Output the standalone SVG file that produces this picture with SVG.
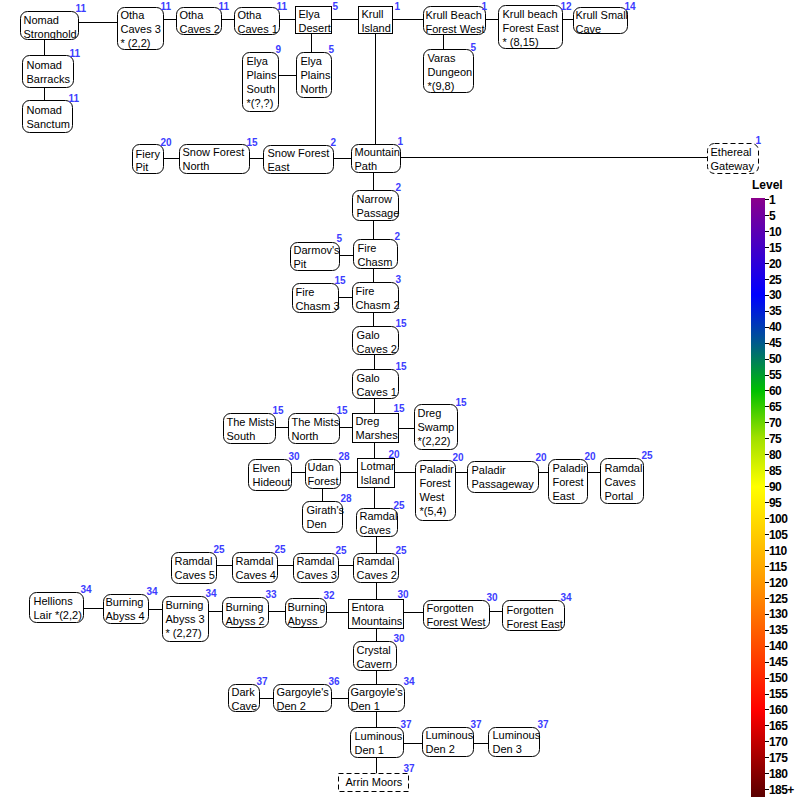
<svg xmlns="http://www.w3.org/2000/svg" width="800" height="800" viewBox="0 0 800 800">
<style>
.n{fill:#fff;stroke:#000;stroke-width:1}
.d{stroke-dasharray:5,3}
.t{font-family:"Liberation Sans",Arial,sans-serif;font-size:11px;fill:#000}
.lv{font-family:"Liberation Sans",Arial,sans-serif;font-size:10px;font-weight:bold;fill:#3c3cff}
.c line{stroke:#000;stroke-width:1}
.lg{font-family:"Liberation Sans",Arial,sans-serif;font-size:12px;font-weight:bold;fill:#000;letter-spacing:-0.6px}
.tk line{stroke:#000;stroke-width:1}
</style>
<defs>
<linearGradient id="grad" x1="0" y1="0" x2="0" y2="1">
<stop offset="0" stop-color="#8b008b"/>
<stop offset="0.162" stop-color="#0000ff"/>
<stop offset="0.242" stop-color="#005a8c"/>
<stop offset="0.322" stop-color="#00c000"/>
<stop offset="0.40" stop-color="#a0e000"/>
<stop offset="0.482" stop-color="#ffff00"/>
<stop offset="0.641" stop-color="#ff9900"/>
<stop offset="0.855" stop-color="#ff0000"/>
<stop offset="1" stop-color="#5a0000"/>
</linearGradient>
</defs>
<rect width="800" height="800" fill="#fff"/>
<g transform="translate(0.5,0.5)">
<g id="connectors" class="c">
<line x1="78" y1="22" x2="117" y2="22"/>
<line x1="163" y1="19" x2="176" y2="19"/>
<line x1="221" y1="19" x2="234" y2="19"/>
<line x1="279" y1="19" x2="295" y2="19"/>
<line x1="331" y1="19" x2="358" y2="19"/>
<line x1="392" y1="19" x2="423" y2="19"/>
<line x1="485" y1="19" x2="498" y2="19"/>
<line x1="562" y1="19" x2="573" y2="19"/>
<line x1="44" y1="39" x2="44" y2="55"/>
<line x1="44" y1="87" x2="44" y2="100"/>
<line x1="311" y1="33" x2="311" y2="52"/>
<line x1="278" y1="75" x2="296" y2="75"/>
<line x1="443" y1="34" x2="443" y2="49"/>
<line x1="375" y1="33" x2="375" y2="144"/>
<line x1="163" y1="158" x2="179" y2="158"/>
<line x1="249" y1="158" x2="263" y2="158"/>
<line x1="333" y1="158" x2="351" y2="158"/>
<line x1="400" y1="157" x2="707" y2="157"/>
<line x1="373" y1="172" x2="373" y2="190"/>
<line x1="373" y1="220" x2="373" y2="239"/>
<line x1="339" y1="255" x2="353" y2="255"/>
<line x1="373" y1="268" x2="373" y2="282"/>
<line x1="338" y1="297" x2="352" y2="297"/>
<line x1="373" y1="312" x2="373" y2="326"/>
<line x1="374" y1="354" x2="374" y2="369"/>
<line x1="374" y1="398" x2="374" y2="413"/>
<line x1="275" y1="427" x2="288" y2="427"/>
<line x1="339" y1="427" x2="352" y2="427"/>
<line x1="398" y1="428" x2="414" y2="428"/>
<line x1="374" y1="442" x2="374" y2="458"/>
<line x1="291" y1="472" x2="305" y2="472"/>
<line x1="340" y1="472" x2="357" y2="472"/>
<line x1="394" y1="472" x2="415" y2="472"/>
<line x1="455" y1="472" x2="467" y2="472"/>
<line x1="538" y1="472" x2="548" y2="472"/>
<line x1="587" y1="472" x2="600" y2="472"/>
<line x1="322" y1="488" x2="322" y2="501"/>
<line x1="374" y1="487" x2="374" y2="508"/>
<line x1="376" y1="536" x2="376" y2="553"/>
<line x1="216" y1="565" x2="232" y2="565"/>
<line x1="277" y1="565" x2="293" y2="565"/>
<line x1="338" y1="565" x2="353" y2="565"/>
<line x1="376" y1="582" x2="376" y2="599"/>
<line x1="83" y1="608" x2="103" y2="608"/>
<line x1="148" y1="609" x2="162" y2="609"/>
<line x1="208" y1="611" x2="222" y2="611"/>
<line x1="268" y1="611" x2="285" y2="611"/>
<line x1="326" y1="612" x2="348" y2="612"/>
<line x1="403" y1="612" x2="423" y2="612"/>
<line x1="489" y1="611" x2="502" y2="611"/>
<line x1="376" y1="628" x2="376" y2="641"/>
<line x1="376" y1="670" x2="376" y2="684"/>
<line x1="259" y1="698" x2="273" y2="698"/>
<line x1="331" y1="698" x2="348" y2="698"/>
<line x1="376" y1="711" x2="376" y2="727"/>
<line x1="403" y1="743" x2="422" y2="743"/>
<line x1="473" y1="743" x2="488" y2="743"/>
<line x1="376" y1="757" x2="376" y2="773"/>
</g>

<g id="nomad-stronghold"><rect class="n" x="20" y="11" width="58" height="28" rx="7"/><text class="t"><tspan x="23" y="23">Nomad</tspan><tspan x="23" y="37">Stronghold</tspan></text><text class="lv" x="75" y="11">11</text></g>
<g id="otha-caves-3"><rect class="n" x="117" y="7" width="46" height="42" rx="7"/><text class="t"><tspan x="120" y="18">Otha</tspan><tspan x="120" y="32">Caves 3</tspan><tspan x="120" y="46">* (2,2)</tspan></text><text class="lv" x="160" y="9">11</text></g>
<g id="otha-caves-2"><rect class="n" x="176" y="7" width="45" height="27" rx="7"/><text class="t"><tspan x="179" y="18">Otha</tspan><tspan x="179" y="32">Caves 2</tspan></text><text class="lv" x="218" y="9">11</text></g>
<g id="otha-caves-1"><rect class="n" x="234" y="7" width="45" height="27" rx="7"/><text class="t"><tspan x="237" y="18">Otha</tspan><tspan x="237" y="32">Caves 1</tspan></text><text class="lv" x="276" y="9">11</text></g>
<g id="elya-desert"><rect class="n" x="295" y="6" width="36" height="27"/><text class="t"><tspan x="298" y="17">Elya</tspan><tspan x="298" y="31">Desert</tspan></text><text class="lv" x="332" y="9">5</text></g>
<g id="krull-island"><rect class="n" x="358" y="6" width="34" height="27"/><text class="t"><tspan x="361" y="17">Krull</tspan><tspan x="361" y="31">Island</tspan></text><text class="lv" x="394" y="9">1</text></g>
<g id="krull-beach-forest-west"><rect class="n" x="423" y="6" width="62" height="28" rx="7"/><text class="t"><tspan x="425" y="18">Krull Beach</tspan><tspan x="425" y="32">Forest West</tspan></text><text class="lv" x="481" y="9">1</text></g>
<g id="krull-beach-forest-east"><rect class="n" x="498" y="5" width="64" height="43" rx="7"/><text class="t"><tspan x="502" y="17">Krull beach</tspan><tspan x="502" y="31">Forest East</tspan><tspan x="502" y="45">* (8,15)</tspan></text><text class="lv" x="560" y="9">12</text></g>
<g id="krull-small-cave"><rect class="n" x="573" y="7" width="54" height="26" rx="7"/><text class="t"><tspan x="575" y="18">Krull Small</tspan><tspan x="575" y="32">Cave</tspan></text><text class="lv" x="624" y="9">14</text></g>
<g id="nomad-barracks"><rect class="n" x="22" y="55" width="51" height="32" rx="7"/><text class="t"><tspan x="26" y="68">Nomad</tspan><tspan x="26" y="82">Barracks</tspan></text><text class="lv" x="69" y="56">11</text></g>
<g id="nomad-sanctum"><rect class="n" x="22" y="100" width="50" height="32" rx="7"/><text class="t"><tspan x="26" y="113">Nomad</tspan><tspan x="26" y="127">Sanctum</tspan></text><text class="lv" x="68" y="101">11</text></g>
<g id="elya-plains-south"><rect class="n" x="242" y="52" width="36" height="59" rx="7"/><text class="t"><tspan x="246" y="64">Elya</tspan><tspan x="246" y="78">Plains</tspan><tspan x="246" y="92">South</tspan><tspan x="246" y="106">*(?,?)</tspan></text><text class="lv" x="275" y="52">9</text></g>
<g id="elya-plains-north"><rect class="n" x="296" y="52" width="35" height="45" rx="7"/><text class="t"><tspan x="300" y="64">Elya</tspan><tspan x="300" y="78">Plains</tspan><tspan x="300" y="92">North</tspan></text><text class="lv" x="328" y="52">5</text></g>
<g id="varas-dungeon"><rect class="n" x="423" y="49" width="50" height="43" rx="7"/><text class="t"><tspan x="427" y="61">Varas</tspan><tspan x="427" y="75">Dungeon</tspan><tspan x="427" y="89">*(9,8)</tspan></text><text class="lv" x="470" y="50">5</text></g>

<g id="fiery-pit"><rect class="n" x="132" y="144" width="31" height="29" rx="7"/><text class="t"><tspan x="135" y="157">Fiery</tspan><tspan x="135" y="170">Pit</tspan></text><text class="lv" x="160" y="145">20</text></g>
<g id="snow-forest-north"><rect class="n" x="179" y="144" width="70" height="29" rx="7"/><text class="t"><tspan x="182" y="155">Snow Forest</tspan><tspan x="182" y="169">North</tspan></text><text class="lv" x="246" y="145">15</text></g>
<g id="snow-forest-east"><rect class="n" x="263" y="145" width="70" height="28" rx="7"/><text class="t"><tspan x="267" y="156">Snow Forest</tspan><tspan x="267" y="170">East</tspan></text><text class="lv" x="330" y="145">2</text></g>
<g id="mountain-path"><rect class="n" x="351" y="144" width="49" height="28" rx="7"/><text class="t"><tspan x="354" y="155">Mountain</tspan><tspan x="354" y="169">Path</tspan></text><text class="lv" x="397" y="144">1</text></g>
<g id="ethereal-gateway"><rect class="n d" x="707" y="143" width="51" height="30" rx="7"/><text class="t"><tspan x="710" y="155">Ethereal</tspan><tspan x="710" y="169">Gateway</tspan></text><text class="lv" x="755" y="143">1</text></g>
<g id="narrow-passage"><rect class="n" x="352" y="190" width="46" height="30" rx="7"/><text class="t"><tspan x="356" y="202">Narrow</tspan><tspan x="356" y="216">Passage</tspan></text><text class="lv" x="395" y="190">2</text></g>
<g id="fire-chasm"><rect class="n" x="353" y="239" width="44" height="29" rx="7"/><text class="t"><tspan x="357" y="251">Fire</tspan><tspan x="357" y="265">Chasm</tspan></text><text class="lv" x="394" y="239">2</text></g>
<g id="darmovs-pit"><rect class="n" x="290" y="242" width="49" height="28" rx="7"/><text class="t"><tspan x="293" y="253">Darmov's</tspan><tspan x="293" y="267">Pit</tspan></text><text class="lv" x="336" y="241">5</text></g>
<g id="fire-chasm-3"><rect class="n" x="292" y="283" width="46" height="29" rx="7"/><text class="t"><tspan x="295" y="295">Fire</tspan><tspan x="295" y="309">Chasm 3</tspan></text><text class="lv" x="334" y="283">15</text></g>
<g id="fire-chasm-2"><rect class="n" x="352" y="282" width="46" height="30" rx="7"/><text class="t"><tspan x="355" y="294">Fire</tspan><tspan x="355" y="308">Chasm 2</tspan></text><text class="lv" x="395" y="282">3</text></g>
<g id="galo-caves-2"><rect class="n" x="352" y="326" width="46" height="28" rx="7"/><text class="t"><tspan x="356" y="338">Galo</tspan><tspan x="356" y="352">Caves 2</tspan></text><text class="lv" x="395" y="326">15</text></g>
<g id="galo-caves-1"><rect class="n" x="352" y="369" width="46" height="29" rx="7"/><text class="t"><tspan x="356" y="381">Galo</tspan><tspan x="356" y="395">Caves 1</tspan></text><text class="lv" x="395" y="369">15</text></g>

<g id="the-mists-south"><rect class="n" x="223" y="413" width="52" height="30" rx="7"/><text class="t"><tspan x="226" y="425">The Mists</tspan><tspan x="226" y="439">South</tspan></text><text class="lv" x="272" y="413">15</text></g>
<g id="the-mists-north"><rect class="n" x="288" y="413" width="51" height="30" rx="7"/><text class="t"><tspan x="291" y="425">The Mists</tspan><tspan x="291" y="439">North</tspan></text><text class="lv" x="336" y="413">15</text></g>
<g id="dreg-marshes"><rect class="n" x="352" y="413" width="46" height="29"/><text class="t"><tspan x="355" y="424">Dreg</tspan><tspan x="355" y="438">Marshes</tspan></text><text class="lv" x="393" y="411">15</text></g>
<g id="dreg-swamp"><rect class="n" x="414" y="404" width="43" height="45" rx="7"/><text class="t"><tspan x="417" y="416">Dreg</tspan><tspan x="417" y="430">Swamp</tspan><tspan x="417" y="444">*(2,22)</tspan></text><text class="lv" x="455" y="405">15</text></g>
<g id="elven-hideout"><rect class="n" x="248" y="459" width="43" height="31" rx="7"/><text class="t"><tspan x="252" y="471">Elven</tspan><tspan x="252" y="485">Hideout</tspan></text><text class="lv" x="288" y="459">30</text></g>
<g id="udan-forest"><rect class="n" x="305" y="459" width="35" height="29" rx="7"/><text class="t"><tspan x="307" y="470">Udan</tspan><tspan x="307" y="484">Forest</tspan></text><text class="lv" x="338" y="459">28</text></g>
<g id="lotmar-island"><rect class="n" x="357" y="458" width="37" height="29"/><text class="t"><tspan x="360" y="469">Lotmar</tspan><tspan x="360" y="483">Island</tspan></text><text class="lv" x="388" y="457">20</text></g>
<g id="paladir-forest-west"><rect class="n" x="415" y="460" width="40" height="60" rx="7"/><text class="t"><tspan x="419" y="472">Paladir</tspan><tspan x="419" y="486">Forest</tspan><tspan x="419" y="500">West</tspan><tspan x="419" y="514">*(5,4)</tspan></text><text class="lv" x="452" y="460">20</text></g>
<g id="paladir-passageway"><rect class="n" x="467" y="461" width="71" height="31" rx="7"/><text class="t"><tspan x="471" y="473">Paladir</tspan><tspan x="471" y="487">Passageway</tspan></text><text class="lv" x="535" y="460">20</text></g>
<g id="paladir-forest-east"><rect class="n" x="548" y="459" width="39" height="44" rx="7"/><text class="t"><tspan x="552" y="471">Paladir</tspan><tspan x="552" y="485">Forest</tspan><tspan x="552" y="499">East</tspan></text><text class="lv" x="584" y="459">20</text></g>
<g id="ramdal-caves-portal"><rect class="n" x="600" y="458" width="43" height="45" rx="7"/><text class="t"><tspan x="604" y="471">Ramdal</tspan><tspan x="604" y="485">Caves</tspan><tspan x="604" y="499">Portal</tspan></text><text class="lv" x="641" y="458">25</text></g>
<g id="giraths-den"><rect class="n" x="302" y="501" width="40" height="31" rx="7"/><text class="t"><tspan x="306" y="513">Girath's</tspan><tspan x="306" y="527">Den</tspan></text><text class="lv" x="340" y="501">28</text></g>
<g id="ramdal-caves"><rect class="n" x="356" y="508" width="41" height="28" rx="7"/><text class="t"><tspan x="359" y="519">Ramdal</tspan><tspan x="359" y="533">Caves</tspan></text><text class="lv" x="393" y="508">25</text></g>

<g id="ramdal-caves-5"><rect class="n" x="171" y="552" width="45" height="31" rx="7"/><text class="t"><tspan x="174" y="564">Ramdal</tspan><tspan x="174" y="578">Caves 5</tspan></text><text class="lv" x="213" y="552">25</text></g>
<g id="ramdal-caves-4"><rect class="n" x="232" y="552" width="45" height="30" rx="7"/><text class="t"><tspan x="235" y="564">Ramdal</tspan><tspan x="235" y="578">Caves 4</tspan></text><text class="lv" x="274" y="552">25</text></g>
<g id="ramdal-caves-3"><rect class="n" x="293" y="553" width="45" height="29" rx="7"/><text class="t"><tspan x="296" y="564">Ramdal</tspan><tspan x="296" y="578">Caves 3</tspan></text><text class="lv" x="335" y="553">25</text></g>
<g id="ramdal-caves-2"><rect class="n" x="353" y="553" width="45" height="29" rx="7"/><text class="t"><tspan x="356" y="564">Ramdal</tspan><tspan x="356" y="578">Caves 2</tspan></text><text class="lv" x="395" y="553">25</text></g>
<g id="hellions-lair"><rect class="n" x="29" y="592" width="54" height="30" rx="7"/><text class="t"><tspan x="33" y="604">Hellions</tspan><tspan x="33" y="618">Lair *(2,2)</tspan></text><text class="lv" x="80" y="592">34</text></g>
<g id="burning-abyss-4"><rect class="n" x="103" y="594" width="45" height="29" rx="7"/><text class="t"><tspan x="105" y="605">Burning</tspan><tspan x="105" y="619">Abyss 4</tspan></text><text class="lv" x="146" y="594">34</text></g>
<g id="burning-abyss-3"><rect class="n" x="162" y="596" width="46" height="45" rx="7"/><text class="t"><tspan x="165" y="608">Burning</tspan><tspan x="165" y="622">Abyss 3</tspan><tspan x="165" y="636">* (2,27)</tspan></text><text class="lv" x="205" y="596">34</text></g>
<g id="burning-abyss-2"><rect class="n" x="222" y="597" width="46" height="30" rx="7"/><text class="t"><tspan x="225" y="610">Burning</tspan><tspan x="225" y="624">Abyss 2</tspan></text><text class="lv" x="265" y="597">33</text></g>
<g id="burning-abyss"><rect class="n" x="285" y="598" width="41" height="29" rx="7"/><text class="t"><tspan x="287" y="610">Burning</tspan><tspan x="287" y="624">Abyss</tspan></text><text class="lv" x="323" y="598">32</text></g>
<g id="entora-mountains"><rect class="n" x="348" y="599" width="55" height="29"/><text class="t"><tspan x="351" y="610">Entora</tspan><tspan x="351" y="624">Mountains</tspan></text><text class="lv" x="397" y="597">30</text></g>
<g id="forgotten-forest-west"><rect class="n" x="423" y="600" width="66" height="28" rx="7"/><text class="t"><tspan x="426" y="611">Forgotten</tspan><tspan x="426" y="625">Forest West</tspan></text><text class="lv" x="486" y="600">30</text></g>
<g id="forgotten-forest-east"><rect class="n" x="502" y="600" width="62" height="30" rx="7"/><text class="t"><tspan x="506" y="613">Forgotten</tspan><tspan x="506" y="627">Forest East</tspan></text><text class="lv" x="560" y="600">34</text></g>
<g id="crystal-cavern"><rect class="n" x="353" y="641" width="43" height="29" rx="7"/><text class="t"><tspan x="356" y="653">Crystal</tspan><tspan x="356" y="667">Cavern</tspan></text><text class="lv" x="393" y="641">30</text></g>
<g id="dark-cave"><rect class="n" x="228" y="684" width="31" height="27" rx="7"/><text class="t"><tspan x="231" y="695">Dark</tspan><tspan x="231" y="709">Cave</tspan></text><text class="lv" x="256" y="684">37</text></g>
<g id="gargoyles-den-2"><rect class="n" x="273" y="684" width="58" height="27" rx="7"/><text class="t"><tspan x="276" y="695">Gargoyle's</tspan><tspan x="276" y="709">Den 2</tspan></text><text class="lv" x="328" y="684">36</text></g>
<g id="gargoyles-den-1"><rect class="n" x="348" y="684" width="56" height="27" rx="7"/><text class="t"><tspan x="350" y="695">Gargoyle's</tspan><tspan x="350" y="709">Den 1</tspan></text><text class="lv" x="403" y="684">34</text></g>
<g id="luminous-den-1"><rect class="n" x="350" y="727" width="53" height="30" rx="7"/><text class="t"><tspan x="354" y="739">Luminous</tspan><tspan x="354" y="753">Den 1</tspan></text><text class="lv" x="400" y="727">37</text></g>
<g id="luminous-den-2"><rect class="n" x="422" y="727" width="51" height="29" rx="7"/><text class="t"><tspan x="425" y="738">Luminous</tspan><tspan x="425" y="752">Den 2</tspan></text><text class="lv" x="470" y="727">37</text></g>
<g id="luminous-den-3"><rect class="n" x="488" y="727" width="51" height="29" rx="7"/><text class="t"><tspan x="492" y="738">Luminous</tspan><tspan x="492" y="752">Den 3</tspan></text><text class="lv" x="537" y="727">37</text></g>
<g id="arrin-moors"><rect class="n d" x="338" y="773" width="70" height="18"/><text class="t" x="345" y="785">Arrin Moors</text><text class="lv" x="403" y="771">37</text></g>
</g>

<g id="legend">
<text class="lg" x="752" y="189" style="letter-spacing:0">Level</text>
<rect x="751" y="198" width="14" height="599" fill="url(#grad)"/>
<g class="tk">
<line x1="765" y1="199.5" x2="769" y2="199.5"/><line x1="765" y1="215.5" x2="769" y2="215.5"/><line x1="765" y1="231.5" x2="769" y2="231.5"/><line x1="765" y1="247.5" x2="769" y2="247.5"/><line x1="765" y1="263.5" x2="769" y2="263.5"/><line x1="765" y1="279.5" x2="769" y2="279.5"/><line x1="765" y1="295.5" x2="769" y2="295.5"/><line x1="765" y1="311.5" x2="769" y2="311.5"/><line x1="765" y1="327.5" x2="769" y2="327.5"/><line x1="765" y1="343.5" x2="769" y2="343.5"/><line x1="765" y1="359.5" x2="769" y2="359.5"/><line x1="765" y1="375.5" x2="769" y2="375.5"/><line x1="765" y1="390.5" x2="769" y2="390.5"/><line x1="765" y1="406.5" x2="769" y2="406.5"/><line x1="765" y1="422.5" x2="769" y2="422.5"/><line x1="765" y1="438.5" x2="769" y2="438.5"/><line x1="765" y1="454.5" x2="769" y2="454.5"/><line x1="765" y1="470.5" x2="769" y2="470.5"/><line x1="765" y1="486.5" x2="769" y2="486.5"/><line x1="765" y1="502.5" x2="769" y2="502.5"/><line x1="765" y1="518.5" x2="769" y2="518.5"/><line x1="765" y1="534.5" x2="769" y2="534.5"/><line x1="765" y1="550.5" x2="769" y2="550.5"/><line x1="765" y1="566.5" x2="769" y2="566.5"/><line x1="765" y1="582.5" x2="769" y2="582.5"/><line x1="765" y1="598.5" x2="769" y2="598.5"/><line x1="765" y1="614.5" x2="769" y2="614.5"/><line x1="765" y1="630.5" x2="769" y2="630.5"/><line x1="765" y1="646.5" x2="769" y2="646.5"/><line x1="765" y1="662.5" x2="769" y2="662.5"/><line x1="765" y1="678.5" x2="769" y2="678.5"/><line x1="765" y1="694.5" x2="769" y2="694.5"/><line x1="765" y1="709.5" x2="769" y2="709.5"/><line x1="765" y1="725.5" x2="769" y2="725.5"/><line x1="765" y1="741.5" x2="769" y2="741.5"/><line x1="765" y1="757.5" x2="769" y2="757.5"/><line x1="765" y1="773.5" x2="769" y2="773.5"/><line x1="765" y1="789.5" x2="769" y2="789.5"/>
</g>
<text class="lg" x="769" y="204">1</text><text class="lg" x="769" y="220">5</text><text class="lg" x="769" y="236">10</text><text class="lg" x="769" y="252">15</text><text class="lg" x="769" y="268">20</text><text class="lg" x="769" y="284">25</text><text class="lg" x="769" y="299">30</text><text class="lg" x="769" y="315">35</text><text class="lg" x="769" y="331">40</text><text class="lg" x="769" y="347">45</text><text class="lg" x="769" y="363">50</text><text class="lg" x="769" y="379">55</text><text class="lg" x="769" y="395">60</text><text class="lg" x="769" y="411">65</text><text class="lg" x="769" y="427">70</text><text class="lg" x="769" y="443">75</text><text class="lg" x="769" y="459">80</text><text class="lg" x="769" y="475">85</text><text class="lg" x="769" y="491">90</text><text class="lg" x="769" y="507">95</text><text class="lg" x="769" y="523">100</text><text class="lg" x="769" y="539">105</text><text class="lg" x="769" y="555">110</text><text class="lg" x="769" y="571">115</text><text class="lg" x="769" y="587">120</text><text class="lg" x="769" y="603">125</text><text class="lg" x="769" y="618">130</text><text class="lg" x="769" y="634">135</text><text class="lg" x="769" y="650">140</text><text class="lg" x="769" y="666">145</text><text class="lg" x="769" y="682">150</text><text class="lg" x="769" y="698">155</text><text class="lg" x="769" y="714">160</text><text class="lg" x="769" y="730">165</text><text class="lg" x="769" y="746">170</text><text class="lg" x="769" y="762">175</text><text class="lg" x="769" y="778">180</text><text class="lg" x="769" y="794">185+</text>
</g>
</svg>
